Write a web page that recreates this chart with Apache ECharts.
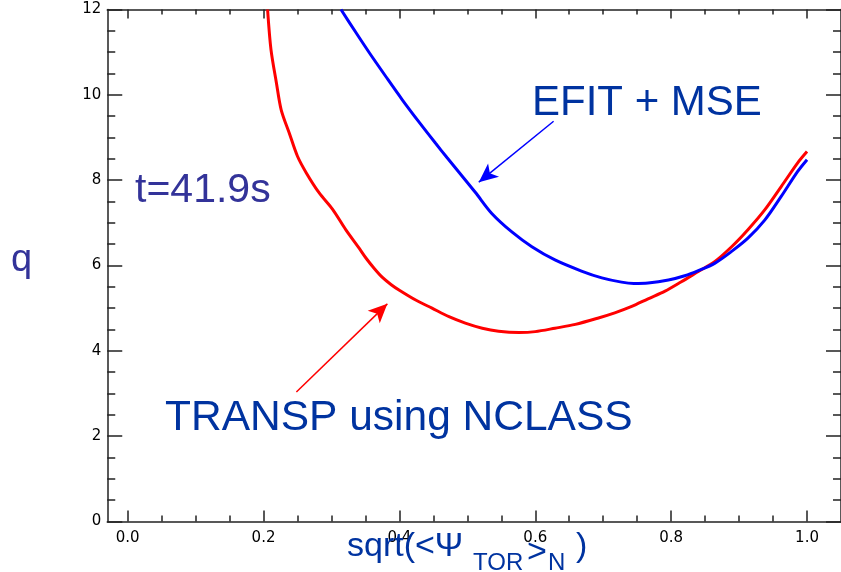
<!DOCTYPE html>
<html>
<head>
<meta charset="utf-8">
<script src="https://cdn.jsdelivr.net/npm/echarts@6/dist/echarts.min.js"></script>
<style>html,body{margin:0;padding:0;background:#fff}#c{width:841px;height:572px}</style>
</head>
<body>
<div id="c"></div>
<script>
// x = sqrt(<Psi_TOR>_N), q values
var transpX = [0.206,0.211,0.219,0.226,0.238,0.250,0.263,0.282,0.302,0.321,0.341,0.351,0.363,0.375,0.388,0.400,0.424,0.448,0.473,0.497,0.522,0.546,0.576,0.600,0.629,0.659,0.693,0.717,0.742,0.766,0.791,0.815,0.840,0.864,0.889,0.913,0.938,0.962,0.986,1.000];
var transpQ = [12.0,11.06,10.28,9.65,9.10,8.56,8.17,7.70,7.31,6.84,6.40,6.17,5.93,5.72,5.55,5.42,5.19,5.00,4.80,4.65,4.53,4.46,4.43,4.45,4.53,4.62,4.77,4.89,5.04,5.22,5.40,5.62,5.86,6.09,6.44,6.84,7.31,7.85,8.40,8.67];
var efitX = [0.314,0.336,0.356,0.380,0.404,0.429,0.453,0.470,0.488,0.512,0.536,0.566,0.595,0.629,0.668,0.698,0.727,0.745,0.766,0.796,0.820,0.840,0.864,0.889,0.913,0.938,0.962,0.986,1.000];
var efitQ = [12.0,11.46,10.98,10.43,9.89,9.36,8.87,8.53,8.18,7.71,7.22,6.78,6.44,6.13,5.87,5.71,5.61,5.58,5.59,5.66,5.76,5.88,6.05,6.33,6.64,7.07,7.62,8.20,8.48];
var xMajorTicks = [0.0,0.2,0.4,0.6,0.8,1.0];
var xMinorTicks = [0.05,0.1,0.15,0.25,0.3,0.35,0.45,0.5,0.55,0.65,0.7,0.75,0.85,0.9,0.95];
// annotation arrows: [start, tip] in data coords
var efitArrow = [[0.627,9.38],[0.5169,7.954]];
var transpArrow = [[0.2484,3.034],[0.3823,5.101]];

function pairs(xs, ys){ return xs.map(function(x,i){ return [x, ys[i]]; }); }

var axisCol = '#222222';
var chart = echarts.init(document.getElementById('c'), null, {renderer:'canvas'});

function xAx(pos, vals, len, showLine, showLabel){
  return {
    type:'value', position:pos, min:-0.03, max:1.05, gridIndex:0,
    axisLine:{show:showLine, onZero:false, lineStyle:{color:axisCol, width:1.5}},
    axisTick:{show:true, inside:true, length:len, customValues:vals, lineStyle:{color:axisCol, width:1.5}},
    axisLabel:{show:showLabel, customValues:vals, margin:9, color:'#000', fontFamily:'DejaVu Sans', fontSize:15,
      formatter:function(v){ return v.toFixed(1); }},
    splitLine:{show:false}
  };
}
function yAx(pos, showLabel){
  return {
    type:'value', position:pos, min:0, max:12, interval:2,
    axisLine:{show:true, onZero:false, lineStyle:{color:axisCol, width:1.5}},
    axisTick:{show:true, inside:true, length:15, lineStyle:{color:axisCol, width:1.5}},
    minorTick:{show:true, splitNumber:4, length:8, lineStyle:{color:axisCol, width:1.5}},
    axisLabel:{show:showLabel, margin:6, color:'#000', fontFamily:'DejaVu Sans', fontSize:15},
    splitLine:{show:false}, minorSplitLine:{show:false}
  };
}

var option = {
  animation:false,
  backgroundColor:'#fff',
  grid:{left:107.25, top:9.5, width:736, height:512, containLabel:false},
  xAxis:[
    xAx('bottom', xMajorTicks, 11, true, true),
    xAx('bottom', xMinorTicks, 6, false, false),
    xAx('top', xMajorTicks, 9, true, false),
    xAx('top', xMinorTicks, 5, false, false)
  ],
  yAxis:[ yAx('left', true), yAx('right', false) ],
  series:[
    {
      name:'TRANSP using NCLASS', type:'line', xAxisIndex:0, yAxisIndex:0,
      data:pairs(transpX, transpQ), showSymbol:false, smooth:0.3, clip:true,
      lineStyle:{color:'#ff0000', width:3}, itemStyle:{color:'#ff0000'},
      markLine:{silent:true, animation:false, label:{show:false},
        lineStyle:{color:'#ff0000', width:1.5, type:'solid'},
        data:[[{coord:transpArrow[0], symbol:'none'},{coord:transpArrow[1], symbol:'arrow', symbolSize:[13,19]}]]}
    },
    {
      name:'EFIT + MSE', type:'line', xAxisIndex:0, yAxisIndex:0,
      data:pairs(efitX, efitQ), showSymbol:false, smooth:0.3, clip:true,
      lineStyle:{color:'#0000ff', width:3}, itemStyle:{color:'#0000ff'},
      markLine:{silent:true, animation:false, label:{show:false},
        lineStyle:{color:'#0000ff', width:1.5, type:'solid'},
        data:[[{coord:efitArrow[0], symbol:'none'},{coord:efitArrow[1], symbol:'arrow', symbolSize:[13,19]}]]}
    }
  ],
  graphic:[
    {type:'text', left:532, top:82, z:100, style:{text:'EFIT + MSE', fill:'#0033a0', font:'42px "Liberation Sans", Arial, sans-serif'}},
    {type:'text', left:135, top:170, z:100, style:{text:'t=41.9s', fill:'#333399', font:'41px "Liberation Sans", Arial, sans-serif'}},
    {type:'text', left:165, top:397, z:100, style:{text:'TRANSP using NCLASS', fill:'#0033a0', font:'42.5px "Liberation Sans", Arial, sans-serif'}},
    {type:'text', left:11, top:242, z:100, style:{text:'q', fill:'#333399', font:'38px "Liberation Sans", Arial, sans-serif'}},
    {type:'text', left:347, top:530, z:1, style:{text:'sqrt(<\u03A8', fill:'#0033a0', font:'34px "Liberation Sans", Arial, sans-serif'}},
    {type:'text', left:473, top:551, z:1, style:{text:'TOR', fill:'#0033a0', font:'24px "Liberation Sans", Arial, sans-serif'}},
    {type:'text', left:527, top:536, z:1, style:{text:'>', fill:'#0033a0', font:'34px "Liberation Sans", Arial, sans-serif'}},
    {type:'text', left:548, top:551, z:1, style:{text:'N', fill:'#0033a0', font:'24px "Liberation Sans", Arial, sans-serif'}},
    {type:'text', left:576, top:530, z:1, style:{text:')', fill:'#0033a0', font:'34px "Liberation Sans", Arial, sans-serif'}}
  ]
};
chart.setOption(option);
</script>
</body>
</html>
